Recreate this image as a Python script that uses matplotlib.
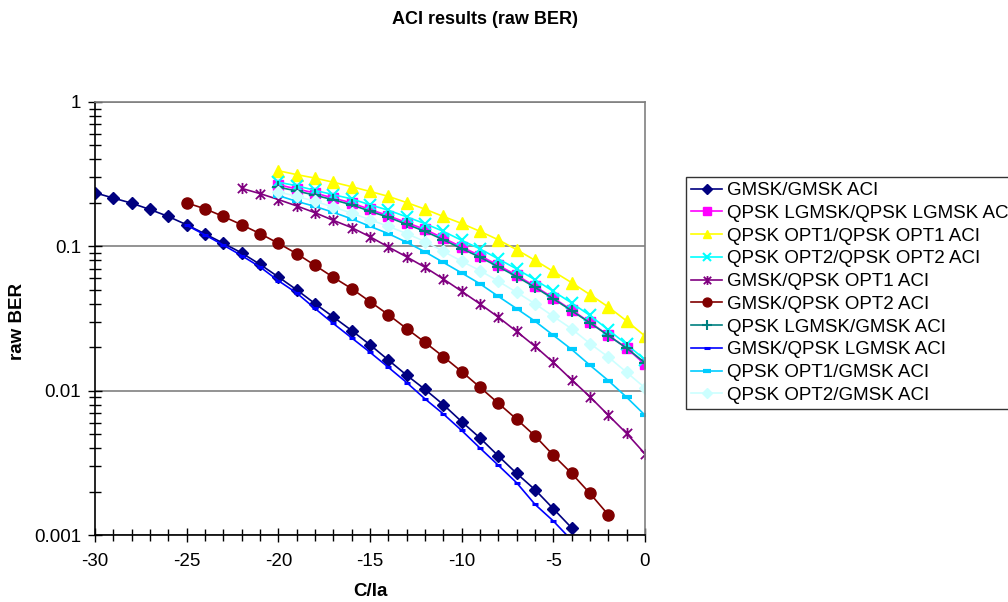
import numpy as np
import matplotlib
matplotlib.use('Agg')
import matplotlib.pyplot as plt
from matplotlib.path import Path
from matplotlib.ticker import FixedLocator, NullFormatter

plt.rcParams['font.family'] = ['Liberation Sans', 'DejaVu Sans']

# C/Ia values (dB) and raw BER per series
x_gmsk = list(range(-30, -3))
ber_gmsk = [0.235, 0.216, 0.199, 0.180, 0.161, 0.141, 0.122, 0.105, 0.090, 0.0750,
            0.0614, 0.0500, 0.0401, 0.0324, 0.0261, 0.0208, 0.0163, 0.0128, 0.0102,
            0.0080, 0.0061, 0.0047, 0.00353, 0.00267, 0.00206, 0.00152, 0.00112]

x_20 = list(range(-20, 1))
ber_lgmsk = [0.267, 0.250, 0.234, 0.216, 0.200, 0.180, 0.163, 0.146, 0.131, 0.114,
             0.099, 0.0862, 0.0739, 0.063, 0.0529, 0.0439, 0.0362, 0.0297, 0.0242,
             0.0197, 0.0152]
ber_opt1 = [0.334, 0.314, 0.297, 0.278, 0.259, 0.240, 0.222, 0.201, 0.181, 0.161,
            0.144, 0.127, 0.111, 0.0948, 0.080, 0.067, 0.0560, 0.0463, 0.038,
            0.0304, 0.0239]
ber_opt2 = [0.278, 0.263, 0.244, 0.228, 0.213, 0.194, 0.178, 0.160, 0.1436, 0.127,
            0.110, 0.096, 0.0818, 0.0697, 0.0587, 0.0488, 0.0405, 0.0332, 0.0264,
            0.0209, 0.0164]

x_22 = list(range(-22, 1))
ber_gmsk_opt1 = [0.252, 0.232, 0.211, 0.1905, 0.171, 0.1513, 0.1348, 0.1165, 0.099,
                 0.0845, 0.0716, 0.0594, 0.0488, 0.0399, 0.0323, 0.0257, 0.0203,
                 0.0157, 0.0119, 0.00906, 0.00676, 0.00505, 0.00365]

x_25a = list(range(-25, -1))
ber_gmsk_opt2 = [0.200, 0.182, 0.161, 0.141, 0.1225, 0.105, 0.089, 0.0738, 0.0610,
                 0.0509, 0.0414, 0.0336, 0.0269, 0.0216, 0.0172, 0.01355, 0.01056,
                 0.00818, 0.00634, 0.00486, 0.00357, 0.00267, 0.00194, 0.00138]

ber_lgmsk_gmsk = [0.257, 0.242, 0.226, 0.210, 0.194, 0.175, 0.159, 0.142, 0.127, 0.111,
                  0.0965, 0.0840, 0.0722, 0.0617, 0.0520, 0.0433, 0.0358, 0.0295,
                  0.0241, 0.0197, 0.0156]

x_25b = list(range(-25, -3))
ber_gmsk_lgmsk = [0.140, 0.120, 0.102, 0.0862, 0.0720, 0.0578, 0.0475, 0.0371, 0.0292,
                  0.0232, 0.01845, 0.01452, 0.01138, 0.00877, 0.0069, 0.0053, 0.0040,
                  0.00304, 0.0023, 0.00163, 0.00125, 0.00092]

ber_opt1_gmsk = [0.2246, 0.205, 0.189, 0.172, 0.155, 0.1376, 0.1225, 0.1066, 0.0916,
                 0.0774, 0.0654, 0.055, 0.045, 0.037, 0.0303, 0.0242, 0.0193, 0.0150,
                 0.01175, 0.0090, 0.00676]
ber_opt2_gmsk = [0.238, 0.222, 0.205, 0.187, 0.170, 0.153, 0.1376, 0.1225, 0.108,
                 0.0923, 0.0788, 0.0679, 0.0573, 0.048, 0.040, 0.0327, 0.0268, 0.0212,
                 0.0171, 0.0134, 0.01045]

labels = ['GMSK/GMSK ACI', 'QPSK LGMSK/QPSK LGMSK ACI', 'QPSK OPT1/QPSK OPT1 ACI',
          'QPSK OPT2/QPSK OPT2 ACI', 'GMSK/QPSK OPT1 ACI', 'GMSK/QPSK OPT2 ACI',
          'QPSK LGMSK/GMSK ACI', 'GMSK/QPSK LGMSK ACI', 'QPSK OPT1/GMSK ACI',
          'QPSK OPT2/GMSK ACI']

# excel style star: x with a vertical bar
star = Path([(-1, -1), (1, 1), (-1, 1), (1, -1), (0, -1.2), (0, 1.2)],
            [Path.MOVETO, Path.LINETO, Path.MOVETO, Path.LINETO, Path.MOVETO, Path.LINETO])

series = [
    (x_gmsk, ber_gmsk, '#000080', 'D', 6, {}),
    (x_20, ber_lgmsk, '#FF00FF', 's', 7, {}),
    (x_20, ber_opt1, '#FFFF00', '^', 8, {}),
    (x_20, ber_opt2, '#00FFFF', 'x', 8, {'markeredgewidth': 1.5}),
    (x_22, ber_gmsk_opt1, '#800080', star, 8, {'markeredgewidth': 1.3}),
    (x_25a, ber_gmsk_opt2, '#800000', 'o', 8, {}),
    (x_20, ber_lgmsk_gmsk, '#008080', '+', 9, {'markeredgewidth': 1.5}),
    (x_25b, ber_gmsk_lgmsk, '#0000FF', '_', 5, {'markeredgewidth': 2.2}),
    (x_20, ber_opt1_gmsk, '#00CCFF', '_', 7, {'markeredgewidth': 3}),
    (x_20, ber_opt2_gmsk, '#CCFFFF', 'D', 6, {}),
]

fig = plt.figure(figsize=(10.08, 6.02), dpi=100)
ax = fig.add_axes([95 / 1008, 1 - 535 / 602, 550 / 1008, 433 / 602])

for (xs, ys, c, m, ms, kw), lab in zip(series, labels):
    ax.plot(xs, ys, color=c, marker=m, markersize=ms, markerfacecolor=c,
            markeredgecolor=c, linewidth=1.2, label=lab, **kw)

ax.set_yscale('log')
ax.set_ylim(0.001, 1)
ax.set_xlim(-30, 0)

ax.xaxis.set_major_locator(FixedLocator(np.arange(-30, 1, 5)))
ax.xaxis.set_minor_locator(FixedLocator(np.arange(-30, 1, 1)))
ax.yaxis.set_major_locator(FixedLocator([0.001, 0.01, 0.1, 1]))
minors = [m * 10.0 ** e for e in (-3, -2, -1) for m in range(2, 10)]
ax.yaxis.set_minor_locator(FixedLocator(minors))
ax.yaxis.set_minor_formatter(NullFormatter())
ax.set_yticklabels(['0.001', '0.01', '0.1', '1'])
ax.set_xticklabels(['-30', '-25', '-20', '-15', '-10', '-5', '0'])

ax.tick_params(which='major', direction='inout', length=10, width=1, labelsize=13.5)
ax.tick_params(axis='x', which='major', pad=8)
ax.tick_params(axis='y', which='major', pad=5)
ax.tick_params(which='minor', direction='inout', length=8, width=1)

ax.grid(True, which='major', axis='y', color='#808080', linewidth=1.2)
ax.set_axisbelow(True)
for s in ('top', 'right'):
    ax.spines[s].set_color('#808080')
    ax.spines[s].set_linewidth(1.2)
for s in ('left', 'bottom'):
    ax.spines[s].set_color('black')
    ax.spines[s].set_linewidth(1.2)

fig.text(485 / 1008, 1 - 20 / 602, 'ACI results (raw BER)', ha='center', va='center',
         fontsize=13, fontweight='bold')
fig.text(370 / 1008, 1 - 591 / 602, 'C/Ia', ha='center', va='center',
         fontsize=13.5, fontweight='bold')
fig.text(18 / 1008, 1 - 321 / 602, 'raw BER', ha='center', va='center',
         fontsize=13.5, fontweight='bold', rotation=90)

leg = fig.legend(loc='upper left', bbox_to_anchor=(686 / 1008, 1 - 177 / 602),
                 bbox_transform=fig.transFigure, borderaxespad=0, fontsize=13.5,
                 frameon=True, fancybox=False, edgecolor='black', handlelength=1.65,
                 handletextpad=0.28, labelspacing=0.3, borderpad=0.27, markerscale=0.8)
leg.get_frame().set_linewidth(1.0)

fig.savefig('out.png', dpi=100)
